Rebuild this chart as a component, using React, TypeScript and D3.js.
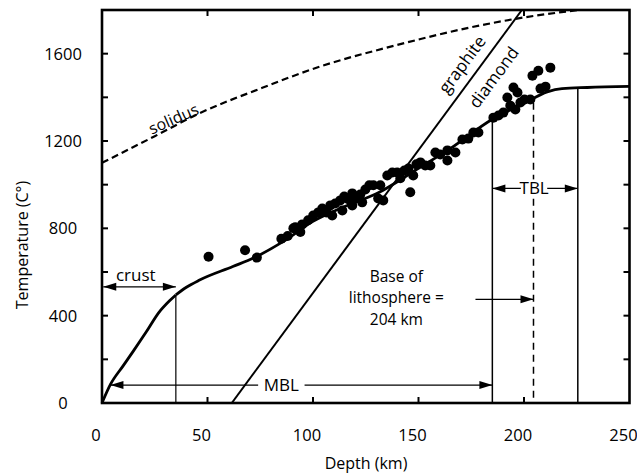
import React from 'react';
import * as d3 from 'd3';

// ---------- data ----------
const depthTicks = [0, 50, 100, 150, 200, 250];
const depthInnerTicks = [50, 100, 150, 200];
const tempLabelTicks = [0, 400, 800, 1200, 1600];
const tempInnerTicks = [200, 400, 600, 800, 1000, 1200, 1400, 1600];

// solidus (depth km, temperature C)
const solidus: [number, number][] = [
  [0, 1100], [25, 1222], [46, 1326], [75, 1440], [103, 1540],
  [140, 1640], [174, 1719], [200, 1766], [226, 1800],
];

// graphite-diamond boundary
const graphiteDiamond: [number, number][] = [[61.5, 0], [199, 1800]];

// model geotherm: crust part and mantle part
const geothermCrust: [number, number][] = [
  [0, 0], [4, 85], [10, 170], [15, 240], [21, 326], [27, 415], [32, 468], [35, 495],
];
const geothermMantle: [number, number][] = [
  [35, 495], [40, 530], [46, 562], [62, 625], [72, 665], [86, 740], [100, 832],
  [115, 900], [130, 958], [150, 1075], [165, 1165], [185, 1300], [200, 1372],
  [211, 1425], [218, 1440], [230, 1445], [250, 1450],
];

// xenolith P-T estimates
const xenoliths: [number, number][] = [
  [50.5, 670], [67.8, 700], [73.4, 666], [85, 752], [88, 765], [90.7, 800], [94, 783],
  [91.6, 805], [94.9, 818], [97.7, 837], [100.1, 859], [102.5, 873], [104.4, 891],
  [106.3, 873], [108.2, 905], [110.5, 914], [112.9, 928], [114.8, 946], [116.7, 933],
  [118.6, 960], [120.5, 942], [122.4, 955], [124.8, 978], [126.7, 997], [128.6, 997],
  [109.1, 859], [113.9, 882], [118.6, 905], [123.3, 919],
  [130.9, 937], [133.3, 928], [131.9, 997], [135.2, 1042], [137.6, 1056], [139.9, 1056],
  [141.4, 1029], [143.3, 1065], [145.2, 1074], [146.1, 965], [147.5, 1042], [149, 1093],
  [150.9, 1102], [153.2, 1088], [155.6, 1088], [158, 1147], [160.3, 1138], [163.7, 1157],
  [163.7, 1111], [167.5, 1147], [170.8, 1207], [173.6, 1211], [176, 1239], [178.4, 1239],
  [185.5, 1307], [187.9, 1317], [190.2, 1330], [192.1, 1399], [193.5, 1362], [195, 1445],
  [196.9, 1422], [198.3, 1376], [200.2, 1390], [203, 1390], [204, 1499], [206.8, 1522],
  [207.8, 1440], [210.2, 1449], [212.5, 1536], [195.9, 1344],
];

// boundaries (km)
const crustBase = 35;
const mblBase = 185;
const lithosphereBase = 204.5;
const tblBase = 225.5;

const FONT = "'Open Sans', sans-serif";

const W = 637, H = 475;
const x = d3.scaleLinear().domain([0, 250]).range([102, 629.5]);
const y = d3.scaleLinear().domain([0, 1800]).range([403, 10]);

const allGeo = geothermCrust.concat(geothermMantle.slice(1));
const geoAt = (d: number) => {
  const i = d3.bisector((p: [number, number]) => p[0]).right(allGeo, d);
  const a = allGeo[Math.max(0, i - 1)], b = allGeo[Math.min(allGeo.length - 1, i)];
  if (a[0] === b[0]) return a[1];
  return a[1] + (b[1] - a[1]) * (d - a[0]) / (b[0] - a[0]);
};

function Arrowhead({ tipX, tipY, dir }: { tipX: number; tipY: number; dir: number }) {
  const L = 13, hw = 4;
  const bx = tipX - dir * L;
  return <polygon points={`${tipX},${tipY} ${bx},${tipY - hw} ${bx},${tipY + hw}`} fill="#000" />;
}

function HArrow({ d0, d1, t, left, right }: { d0: number; d1: number; t: number; left: boolean; right: boolean }) {
  const x0 = x(d0), x1 = x(d1), yy = y(t);
  return (
    <g>
      <line x1={x0} x2={x1} y1={yy} y2={yy} stroke="#000" strokeWidth={1.3} />
      {left && <Arrowhead tipX={x0} tipY={yy} dir={-1} />}
      {right && <Arrowhead tipX={x1} tipY={yy} dir={1} />}
    </g>
  );
}

export default function App() {
  const line = d3.line<[number, number]>().x(d => x(d[0])).y(d => y(d[1]));
  const smooth = d3.line<[number, number]>().x(d => x(d[0])).y(d => y(d[1])).curve(d3.curveMonotoneX);

  const gdAngle = (Math.atan2(y(graphiteDiamond[1][1]) - y(graphiteDiamond[0][1]), x(graphiteDiamond[1][0]) - x(graphiteDiamond[0][0])) * 180) / Math.PI;

  return (
    <svg width={W} height={H} style={{ position: 'absolute', left: 0, top: 0, background: '#fff' }} fontFamily={FONT}>
      <rect x={0} y={0} width={W} height={H} fill="#fff" />
      <defs>
        <clipPath id="plot">
          <rect x={x(0)} y={y(1800)} width={x(250) - x(0)} height={y(0) - y(1800)} />
        </clipPath>
      </defs>

      {/* solidus */}
      <path d={smooth(solidus) || ''} fill="none" stroke="#000" strokeWidth={2.2} strokeDasharray="7,4" clipPath="url(#plot)" />
      <text transform={`translate(${x(35)},${y(1278)}) rotate(-24)`} textAnchor="middle" fontSize={16}>solidus</text>

      {/* graphite-diamond */}
      <path d={line(graphiteDiamond) || ''} fill="none" stroke="#000" strokeWidth={2} clipPath="url(#plot)" />
      <text transform={`translate(${x(172) + 2},${y(1520) - 3}) rotate(${gdAngle})`} textAnchor="middle" fontSize={17}>graphite</text>
      <text transform={`translate(${x(186.5) + 3},${y(1475)}) rotate(${gdAngle})`} textAnchor="middle" fontSize={17}>diamond</text>

      {/* vertical boundaries */}
      <line x1={x(crustBase)} x2={x(crustBase)} y1={y(geoAt(crustBase))} y2={y(0)} stroke="#000" strokeWidth={1.2} />
      <line x1={x(mblBase)} x2={x(mblBase)} y1={y(geoAt(mblBase))} y2={y(0)} stroke="#000" strokeWidth={1.5} />
      <line x1={x(lithosphereBase)} x2={x(lithosphereBase)} y1={y(geoAt(lithosphereBase)) + 4} y2={y(0)} stroke="#000" strokeWidth={1.5} strokeDasharray="7,5" />
      <line x1={x(tblBase)} x2={x(tblBase)} y1={y(geoAt(tblBase))} y2={y(0)} stroke="#000" strokeWidth={1.5} />

      {/* xenolith points */}
      {xenoliths.map((p, i) => (
        <circle key={i} cx={x(p[0])} cy={y(p[1])} r={5} fill="#000" />
      ))}

      {/* geotherm */}
      <path d={smooth(geothermCrust) || ''} fill="none" stroke="#000" strokeWidth={2.8} />
      <path d={smooth(geothermMantle) || ''} fill="none" stroke="#000" strokeWidth={2.8} />

      {/* crust annotation */}
      <HArrow d0={0.6} d1={crustBase} t={532} left right />
      <text x={x(16)} y={y(560)} textAnchor="middle" fontSize={17}>crust</text>

      {/* MBL */}
      <HArrow d0={4} d1={mblBase} t={82} left right />
      <rect x={x(74)} y={y(82) - 9} width={x(96) - x(74)} height={18} fill="#fff" />
      <text x={x(85)} y={y(82) + 6} textAnchor="middle" fontSize={17}>MBL</text>

      {/* TBL */}
      <HArrow d0={mblBase} d1={tblBase} t={983} left right />
      <rect x={x(198.5)} y={y(983) - 9} width={x(211) - x(198.5)} height={18} fill="#fff" />
      <text x={x(204.8)} y={y(983) + 6} textAnchor="middle" fontSize={17}>TBL</text>

      {/* base of lithosphere */}
      <text x={x(139.5)} y={y(553)} textAnchor="middle" fontSize={15.5}>Base of</text>
      <text x={x(139.5)} y={y(457)} textAnchor="middle" fontSize={15.5}>lithosphere =</text>
      <text x={x(139.5)} y={y(359)} textAnchor="middle" fontSize={15.5}>204 km</text>
      <HArrow d0={177} d1={lithosphereBase} t={475} left={false} right />

      {/* frame */}
      <rect x={x(0)} y={y(1800)} width={x(250) - x(0)} height={y(0) - y(1800)} fill="none" stroke="#000" strokeWidth={2.6} />

      {/* ticks */}
      {depthInnerTicks.map(d => (
        <g key={'dx' + d}>
          <line x1={x(d)} x2={x(d)} y1={y(0)} y2={y(0) - 6} stroke="#000" strokeWidth={2} />
          <line x1={x(d)} x2={x(d)} y1={y(1800)} y2={y(1800) + 6} stroke="#000" strokeWidth={2} />
        </g>
      ))}
      {tempInnerTicks.map(t => (
        <g key={'ty' + t}>
          <line x1={x(0)} x2={x(0) + 6} y1={y(t)} y2={y(t)} stroke="#000" strokeWidth={2} />
          <line x1={x(250)} x2={x(250) - 6} y1={y(t)} y2={y(t)} stroke="#000" strokeWidth={2} />
        </g>
      ))}

      {/* tick labels */}
      {depthTicks.map(d => (
        <text key={'xl' + d} x={x(d) - 6} y={441} textAnchor="middle" fontSize={16.5}>{d}</text>
      ))}
      {tempLabelTicks.map(t => (
        <text key={'yl' + t} x={63} y={y(t) + 6} textAnchor="middle" fontSize={16.5}>{t}</text>
      ))}

      {/* axis titles */}
      <text x={366} y={469} textAnchor="middle" fontSize={16}>Depth (km)</text>
      <text transform={`translate(28,${245}) rotate(-90)`} textAnchor="middle" fontSize={16}>Temperature (C°)</text>
    </svg>
  );
}
